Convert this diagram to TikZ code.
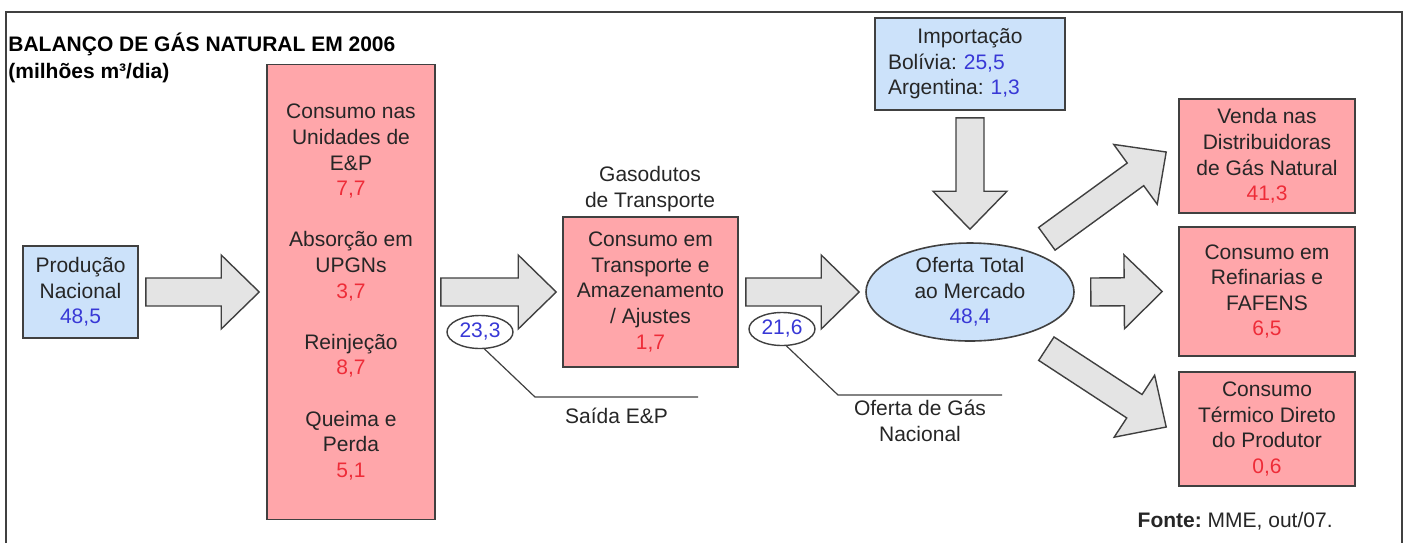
\documentclass[tikz,border=0pt]{standalone}
\usepackage{fontspec}
\setmainfont{Liberation Sans}
\usetikzlibrary{calc,shapes.geometric}

\definecolor{boxred}{RGB}{255,166,170}
\definecolor{boxblue}{RGB}{204,226,250}
\definecolor{numred}{RGB}{238,44,56}
\definecolor{numblue}{RGB}{56,56,214}
\definecolor{edge}{RGB}{64,64,64}
\definecolor{arrowgray}{RGB}{228,228,228}

\newcommand{\gasfont}{\fontsize{10.5}{12.8}\selectfont\frenchspacing}
\newcommand{\numr}[1]{\textcolor{numred}{#1}}
\newcommand{\numb}[1]{\textcolor{numblue}{#1}}

\begin{document}
\begin{tikzpicture}[
  x=0.5pt, y=-0.5pt,
  font=\gasfont,
  frame/.style={draw=edge, line width=1pt},
  heading/.style={font=\gasfont\bfseries, inner sep=0pt, text=black},
  flow/.style={draw=edge, line width=0.8pt, fill=boxred, inner sep=0pt,
    align=center, text=black!85},
  supply/.style={flow, fill=boxblue},
  market/.style={ellipse, draw=edge, line width=0.8pt, fill=boxblue,
    inner sep=0pt, minimum width=104pt, minimum height=49pt,
    align=center, text=black!85},
  tag/.style={ellipse, draw=edge, line width=0.7pt, fill=white, inner sep=0pt,
    minimum width=33pt, minimum height=16.5pt, text=numblue},
  note/.style={inner xsep=0pt, inner ysep=2pt, align=center, text=black!85},
  leader/.style={draw=edge, line width=0.6pt},
  fat/.style={draw=edge, line width=0.7pt, fill=arrowgray,
    to path={let \p1=(\tikztostart), \p2=(\tikztotarget),
      \p3=($(\p2)!19pt!(\p1)$) in
      ($(\p1)!7pt!90:(\p2)$) -- ($(\p3)!7pt!-90:(\p1)$)
      -- ($(\p3)!18.5pt!-90:(\p1)$) -- (\p2)
      -- ($(\p3)!18.5pt!90:(\p1)$) -- ($(\p3)!7pt!90:(\p1)$)
      -- ($(\p1)!7pt!-90:(\p2)$) -- cycle}},
]
\useasboundingbox (0,0) rectangle (1410,543);

% moldura
\draw[frame] (6,543) -- (6,12) -- (1402,12) -- (1402,543);

% titulo
\node[heading, anchor=base west] (title) at (8,51) {BALANÇO DE GÁS NATURAL EM 2006};
\node[heading, anchor=base west] (unit) at (8,78) {(milhões m³/dia)};

% producao e E&P
\node[supply, minimum width=57.5pt, minimum height=46pt] (prod) at (80.5,292)
  {Produção\\Nacional\\\numb{48,5}};
\node[flow, minimum width=84pt, minimum height=227.5pt] (ep) at (351,292)
  {Consumo nas\\Unidades de\\E\&P\\\numr{7,7}\\[\baselineskip]
   Absorção em\\UPGNs\\\numr{3,7}\\[\baselineskip]
   Reinjeção\\\numr{8,7}\\[\baselineskip]
   Queima e\\Perda\\\numr{5,1}};

% transporte
\node[flow, minimum width=87.5pt, minimum height=75pt] (trans) at (650.5,292)
  {Consumo em\\Transporte e\\Amazenamento\\/ Ajustes\\\numr{1,7}};
\node[note] (pipe) at (650,189) {Gasodutos\\de Transporte};

% importacao e oferta
\node[supply, align=left, text width=82pt, minimum width=95pt, minimum height=46pt]
  (imp) at (970,64)
  {\makebox[82pt]{Importação}\\Bolívia: \numb{25,5}\\Argentina: \numb{1,3}};
\node[market] (offer) at (970,292) {Oferta Total\\ao Mercado\\\numb{48,4}};

% destinos
\node[flow, minimum width=88pt, minimum height=57pt] (dist) at (1267,156)
  {Venda nas\\Distribuidoras\\de Gás Natural\\\numr{41,3}};
\node[flow, minimum width=88pt, minimum height=64.5pt] (refi) at (1267,291.5)
  {Consumo em\\Refinarias e\\FAFENS\\\numr{6,5}};
\node[flow, minimum width=88pt, minimum height=57pt] (term) at (1267,429)
  {Consumo\\Térmico Direto\\do Produtor\\\numr{0,6}};

% setas largas
\draw[fat] ([xshift=3.5pt]prod.east) to ([xshift=-3.5pt]ep.west);
\draw[fat] ([xshift=2.5pt]ep.east) to ([xshift=-3pt]trans.west);
\draw[fat] ([xshift=3.5pt]trans.east) to ([xshift=-3pt]offer.west);
\draw[fat] ([yshift=-3.5pt]imp.south) to ([yshift=6.5pt]offer.north);
\draw[fat] ([shift={(9pt,6pt)}]offer.35) to ([shift={(-6pt,2pt)}]dist.west);
\draw[fat] ([xshift=8pt]offer.east) to ([xshift=-8pt]refi.west);
\draw[fat] ([shift={(9.5pt,-7.5pt)}]offer.-36) to ([shift={(-6pt,1pt)}]term.west);

% volumes intermediarios
\node[tag] (v1) at (480,332) {23,3};
\node[tag] (v2) at (782,329) {21,6};

\coordinate (k1) at (535,397);
\coordinate (k1e) at (698,397);
\draw[leader] (v1.-75) -- (k1) -- (k1e);
\node[note, anchor=north, inner ysep=5.5pt] (saida) at ($(k1)!0.5!(k1e)$) {Saída E\&P};

\coordinate (k2) at (838,395);
\coordinate (k2e) at (1002,395);
\draw[leader] (v2.-75) -- (k2) -- (k2e);
\node[note, anchor=north, inner ysep=2.5pt] (nac) at ($(k2)!0.5!(k2e)$) {Oferta de Gás\\Nacional};

% fonte
\node[note, anchor=east] (src) at (1333,521) {\textbf{Fonte:} MME, out/07.};
\end{tikzpicture}
\end{document}
